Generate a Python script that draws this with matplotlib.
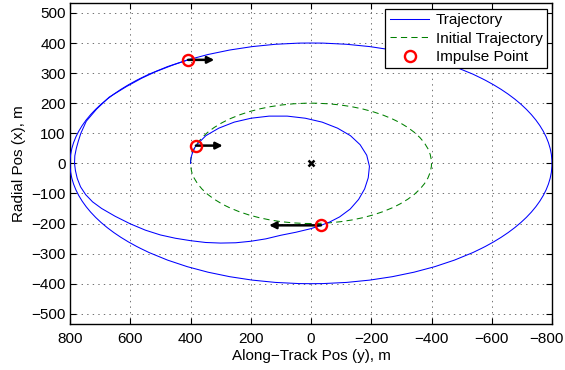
import matplotlib
matplotlib.use("Agg")
import matplotlib.pyplot as plt
import matplotlib.transforms as mtransforms
from matplotlib.patches import Ellipse
from matplotlib.lines import Line2D

plt.rcParams['font.family'] = ['Liberation Sans', 'DejaVu Sans']
plt.rcParams['lines.scale_dashes'] = False

# Initial (natural-motion) relative orbit: centre and semi-axes, metres
initial_center = (0, 0)
initial_along_semi = 400
initial_radial_semi = 200

# Final relative orbit reached after the last burn
final_center = (0, 0)
final_along_semi = 800
final_radial_semi = 400

# Transfer trajectory between the burns (along-track y, radial x), metres
transfer_along = [400, 398, 392, 382,
                  349, 306, 255, 199, 139, 79, 19, -37, -88, -131, -163,
                  -185, -194, -190, -178, -158, -130, -95, -62, -33,
                  0, 50, 100, 150, 200, 250, 300, 350, 400, 450, 500, 550,
                  600, 650, 695, 725, 748, 765, 776, 782, 785, 784, 779, 772, 764,
                  746, 712, 670, 613, 562, 515, 458, 408]
transfer_radial = [0, 20, 40, 59,
                   92, 117, 137, 150, 157, 157, 150, 137, 117, 92, 62,
                   27, -10, -48, -85, -120, -152, -178, -195, -206,
                   -217, -229, -239, -251, -259, -264, -265, -263, -257, -249, -238, -222,
                   -201, -176, -150, -128, -104, -78, -50, -24, 0, 25, 50, 75, 100,
                   140, 180, 220, 255, 283, 305, 327, 344]

# Impulse points and along-track delta-v arrows (scaled to metres)
impulse_along = [408, 382, -33]
impulse_radial = [344, 59, -206]
impulse_dv_along = [-87, -89, 172]

x_ticks = list(range(800, -801, -200))
y_ticks = list(range(-500, 501, 100))

fig = plt.figure(figsize=(5.65, 3.70), dpi=100)
ax = fig.add_axes([70 / 565, 46 / 370, 482 / 565, 320.7 / 370])

blue = (0, 0, 1)
green = (0, 0.5, 0)
dash = (0, (4.5, 3.0))

ax.add_patch(Ellipse(initial_center, 2 * initial_along_semi, 2 * initial_radial_semi,
                     fill=False, edgecolor=green, lw=0.75, linestyle=dash, zorder=2))
ax.add_patch(Ellipse(final_center, 2 * final_along_semi, 2 * final_radial_semi,
                     fill=False, edgecolor=blue, lw=0.75, zorder=3))
ax.plot(transfer_along, transfer_radial, color=blue, lw=0.75, zorder=3)

for ya, xr, dv in zip(impulse_along, impulse_radial, impulse_dv_along):
    ax.annotate('', xy=(ya + dv, xr), xytext=(ya, xr),
                arrowprops=dict(arrowstyle='-|>', color='k', lw=1.8,
                                mutation_scale=10, shrinkA=0, shrinkB=0),
                zorder=4)

ax.plot(impulse_along, impulse_radial, 'o', ls='none', mfc='none',
        mec='r', mew=1.7, ms=8, zorder=5)
ax.plot([initial_center[0]], [initial_center[1]], 'x', color='k', ms=5, mew=1.8, zorder=5)

ax.set_xlim(800, -800)
ax.set_ylim(-534, 532)
ax.set_xticks(x_ticks)
ax.set_yticks(y_ticks)
ax.tick_params(direction='in', top=True, right=True, length=4, width=0.8,
               labelsize=11)
ax.tick_params(axis='x', pad=6)
ax.tick_params(axis='y', pad=3)
ax.grid(True, linestyle=(0, (1, 3)), color='0.35', lw=0.6)
for s in ax.spines.values():
    s.set_linewidth(1.0)
ax.set_xlabel('Along\u2212Track Pos (y), m', fontsize=11, labelpad=2)
ax.set_ylabel('Radial Pos (x), m', fontsize=11, labelpad=4)

# keep the last along-track tick label inside the figure
fig.canvas.draw()
last = ax.get_xticklabels()[-1]
last.set_transform(last.get_transform() +
                   mtransforms.ScaledTranslation(-6 / 100, 0, fig.dpi_scale_trans))

handles = [Line2D([], [], color=blue, lw=0.75),
           Line2D([], [], color=green, lw=0.75, linestyle=dash),
           Line2D([], [], ls='none', marker='o', mfc='none', mec='r', mew=1.7, ms=8)]
leg = ax.legend(handles, ['Trajectory', 'Initial Trajectory', 'Impulse Point'],
                loc='upper right', fontsize=11, fancybox=False, framealpha=1,
                edgecolor='k', handlelength=2.6, handletextpad=0.4,
                borderaxespad=0.35, borderpad=0.28, labelspacing=0.3)
leg.get_frame().set_linewidth(0.9)

fig.savefig('out.png', dpi=100)
